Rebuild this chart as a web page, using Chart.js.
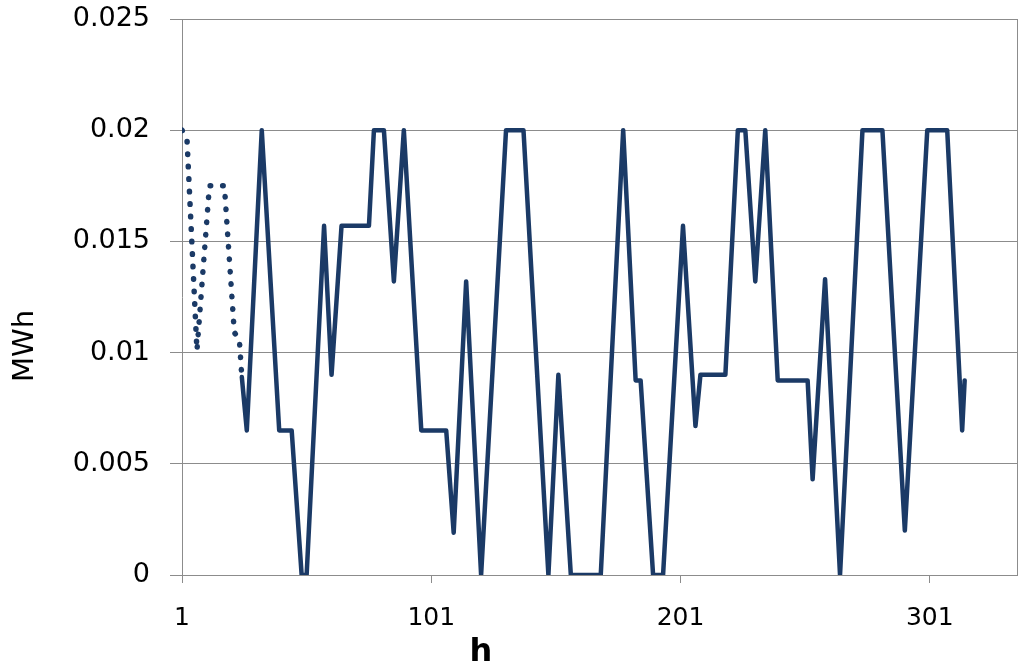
<!DOCTYPE html>
<html><head><meta charset="utf-8">
<script src="https://cdn.jsdelivr.net/npm/chart.js@4/dist/chart.umd.min.js"></script>
<style>html,body{margin:0;padding:0;background:#fff;} #wrap{width:1024px;height:670px;position:relative;}</style>
</head><body><div id="wrap"><canvas id="c" width="1024" height="670"></canvas></div>
<script>
const xMin = 1, xMax = 336;
const xTickValues = [1, 101, 201, 301];
const xTickLabels = ['1', '101', '201', '301'];
const yTickValues = [0, 0.005, 0.01, 0.015, 0.02, 0.025];
const yTickLabels = ['0', '0.005', '0.01', '0.015', '0.02', '0.025'];
const xTitle = 'h';
const yTitle = 'MWh';

// dotted series (first hours)
const dottedHours  = [1, 3, 7, 12, 18, 22, 24, 25];
const dottedValues = [0.02, 0.0196, 0.0101, 0.0175, 0.0175, 0.0109, 0.0106, 0.0089];

// solid series
const solidHours = [25, 27, 33, 40, 45, 49, 51, 58, 61, 65, 76, 78, 82, 86, 90, 97, 107, 110, 115, 121,
  131, 138, 148, 152, 157, 169, 178, 183, 185, 190, 194, 202, 207, 209, 219, 224, 227, 231, 235, 240,
  252, 254, 259, 265, 274, 282, 291, 300, 308, 314, 315];
const solidValues = [0.0089, 0.0065, 0.02, 0.0065, 0.0065, 0, 0, 0.0157, 0.009, 0.0157, 0.0157, 0.02, 0.02, 0.0132, 0.02, 0.0065, 0.0065, 0.0019, 0.0132, 0,
  0.02, 0.02, 0, 0.009, 0, 0, 0.02, 0.00875, 0.00875, 0, 0, 0.0157, 0.0067, 0.009, 0.009, 0.02, 0.02, 0.0132, 0.02, 0.00875,
  0.00875, 0.0043, 0.0133, 0, 0.02, 0.02, 0.002, 0.02, 0.02, 0.0065, 0.00875];

const lineColor = '#1B3A66';
const gridColor = '#8c8c8c';
const fontFamily = '"DejaVu Sans", sans-serif';

const frameAndTitles = {
  id: 'frameAndTitles',
  beforeDatasetsDraw(chart) {
    const {ctx, chartArea} = chart;
    ctx.save();
    ctx.strokeStyle = gridColor;
    ctx.lineWidth = 1;
    ctx.beginPath();
    ctx.moveTo(Math.round(chartArea.right) + 0.5, chartArea.top);
    ctx.lineTo(Math.round(chartArea.right) + 0.5, chartArea.bottom);
    ctx.stroke();
    ctx.restore();
  },
  afterDraw(chart) {
    const {ctx} = chart;
    ctx.save();
    ctx.fillStyle = '#000';
    ctx.textAlign = 'center';
    ctx.textBaseline = 'alphabetic';
    ctx.font = 'bold 32px ' + fontFamily;
    ctx.fillText(xTitle, 481, 661);
    ctx.translate(33, 346);
    ctx.rotate(-Math.PI / 2);
    ctx.font = '29px ' + fontFamily;
    ctx.fillText(yTitle, 0, 0);
    ctx.restore();
  }
};

new Chart(document.getElementById('c'), {
  type: 'line',
  data: {
    datasets: [
      {
        data: solidHours.map((h, i) => ({x: h, y: solidValues[i]})),
        borderColor: lineColor,
        borderWidth: 4.5,
        borderJoinStyle: 'round',
        borderCapStyle: 'round',
        pointRadius: 0,
        tension: 0,
        fill: false
      },
      {
        data: dottedHours.map((h, i) => ({x: h, y: dottedValues[i]})),
        borderColor: lineColor,
        borderWidth: 5.5,
        borderDash: [0.5, 12],
        borderCapStyle: 'round',
        borderJoinStyle: 'round',
        pointRadius: 0,
        tension: 0,
        fill: false
      }
    ]
  },
  options: {
    responsive: false,
    animation: false,
    devicePixelRatio: 1,
    layout: {padding: {top: 19, right: 7, left: 0, bottom: 0}},
    plugins: {legend: {display: false}, tooltip: {enabled: false}},
    scales: {
      x: {
        type: 'linear',
        min: xMin,
        max: xMax,
        afterBuildTicks: s => { s.ticks = xTickValues.map(v => ({value: v})); },
        afterFit: s => { s.height = 95; s.paddingLeft = 0; s.paddingRight = 0; },
        ticks: {
          callback: (v, i) => xTickLabels[i],
          font: {family: fontFamily, size: 25},
          color: '#000',
          padding: 20,
          maxRotation: 0,
          autoSkip: false
        },
        grid: {drawOnChartArea: false, drawTicks: true, tickLength: 8, color: gridColor},
        border: {color: gridColor, width: 1},
        title: {display: false}
      },
      y: {
        min: 0,
        max: 0.025,
        afterBuildTicks: s => { s.ticks = yTickValues.map(v => ({value: v})); },
        afterFit: s => { s.width = 182; s.paddingTop = 0; s.paddingBottom = 0; },
        ticks: {
          callback: (v, i) => yTickLabels[i],
          font: {family: fontFamily, size: 27},
          color: '#000',
          padding: 20
        },
        grid: {color: gridColor, tickLength: 12, lineWidth: 1},
        border: {color: gridColor, width: 1},
        title: {display: false}
      }
    }
  },
  plugins: [frameAndTitles]
});
</script>
</body></html>
